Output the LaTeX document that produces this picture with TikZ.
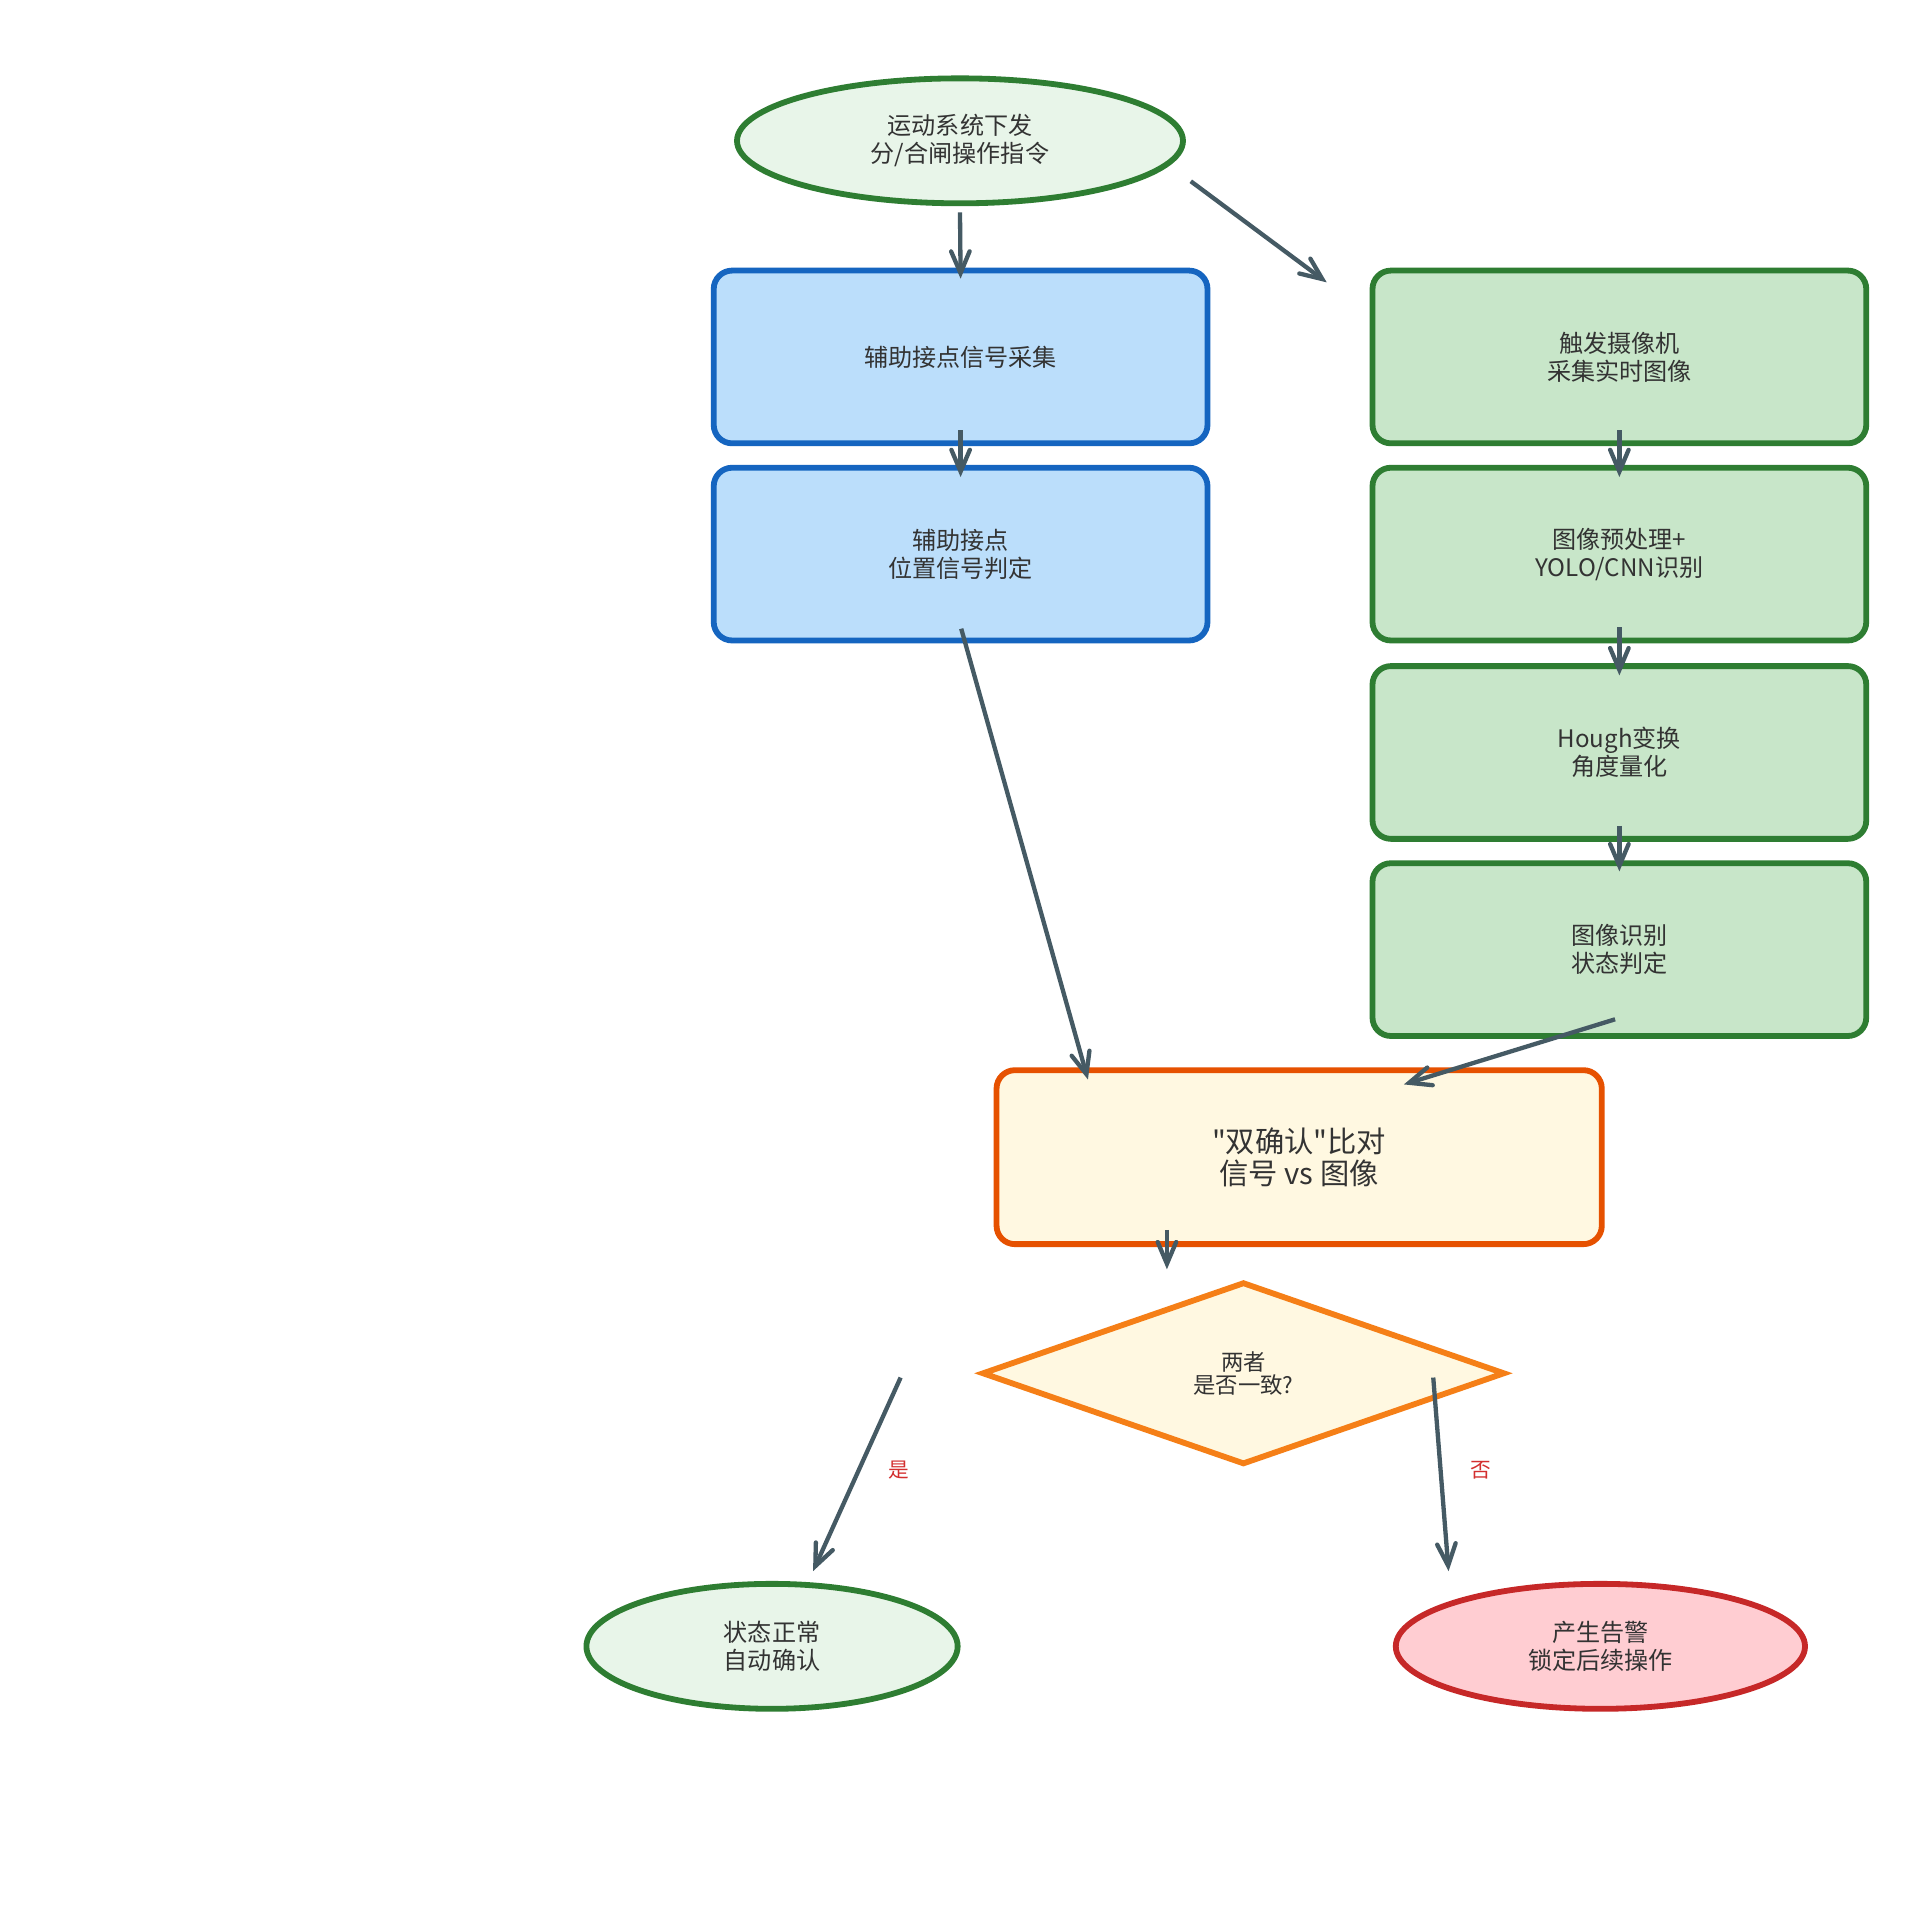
\documentclass[tikz,border=0pt]{standalone}
\usepackage{fontspec}
\setmainfont{Noto Sans CJK SC}[Ligatures=TeXOff]
\usepackage{tikz}
\usetikzlibrary{positioning,arrows,shapes.geometric}
\definecolor{txtgray}{HTML}{333333}
\definecolor{arrgray}{HTML}{455A64}
\definecolor{okfill}{HTML}{E8F5E9}
\definecolor{okdraw}{HTML}{2E7D32}
\definecolor{auxfill}{HTML}{BBDEFB}
\definecolor{auxdraw}{HTML}{1565C0}
\definecolor{camfill}{HTML}{C8E6C9}
\definecolor{cmpfill}{HTML}{FFF8E1}
\definecolor{cmpdraw}{HTML}{E65100}
\definecolor{decdraw}{HTML}{F57F17}
\definecolor{alarmfill}{HTML}{FFCDD2}
\definecolor{alarmdraw}{HTML}{C62828}
\definecolor{lblred}{HTML}{D32F2F}
\tikzset{
basenode/.style = {align=center, inner sep=0pt, text=txtgray, line width=1.35pt,
  font=\fontsize{5.6}{6.5}\selectfont},
endnode/.style = {basenode, ellipse, minimum height=1.02cm},
startnode/.style = {endnode, fill=okfill, draw=okdraw, minimum width=3.64cm},
okend/.style = {endnode, fill=okfill, draw=okdraw, minimum width=3.03cm},
alarmend/.style = {endnode, fill=alarmfill, draw=alarmdraw, minimum width=3.34cm},
stepbox/.style = {basenode, rectangle, rounded corners=0.15cm, minimum width=4.03cm, minimum height=1.41cm},
auxbox/.style = {stepbox, fill=auxfill, draw=auxdraw},
cambox/.style = {stepbox, fill=camfill, draw=okdraw},
cmpbox/.style = {stepbox, fill=cmpfill, draw=cmpdraw, minimum width=4.94cm, minimum height=1.42cm,
  font=\fontsize{6.8}{7.3}\selectfont},
decision/.style = {basenode, diamond, aspect=2.8, fill=cmpfill, draw=decdraw,
  minimum width=4.27cm, minimum height=1.49cm, font=\fontsize{5.2}{5.3}\selectfont},
arr/.style = {->, >=angle 45, line width=1pt, draw=arrgray},
yesno/.style = {text=lblred, inner sep=0pt, font=\fontsize{4.8}{5}\selectfont}
}
\begin{document}
\begin{tikzpicture}[x=0.01cm, y=-0.01cm]
\fill[white] (0,0) rectangle (1568,1568);
\useasboundingbox (0,0) rectangle (1568,1568);

% nodes
\node[startnode] (cmd) at (784,115) {运动系统下发\\分/合闸操作指令};
\node[auxbox] (collect) at (784.5,291.5) {辅助接点信号采集};
\node[auxbox] (auxjudge) at (784.5,452.5) {辅助接点\\位置信号判定};
\node[cambox] (trigger) at (1322.5,291.5) {触发摄像机\\采集实时图像};
\node[cambox] (preproc) at (1322.5,452.5) {图像预处理+\\YOLO/CNN识别};
\node[cambox] (hough) at (1322.5,614.5) {Hough变换\\角度量化};
\node[cambox] (imgjudge) at (1322.5,775.5) {图像识别\\状态判定};
\node[cmpbox] (compare) at (1061,945) {"双确认"比对\\信号 vs 图像};
\node[decision] (same) at (1015.5,1121.5) {两者\\是否一致?};
\node[okend] (normal) at (630.5,1344.5) {状态正常\\自动确认};
\node[alarmend] (alarm) at (1307,1344.5) {产生告警\\锁定后续操作};

% connectors
\draw[arr] ([shift={(0,5)}]cmd.south) -- ([shift={(0,9)}]collect.north);
\draw[arr] ([shift={(4,33)}]cmd.east) -- ([shift={(-35,12)}]trigger.north west);
\draw[arr] ([shift={(0,-13)}]collect.south) -- ([shift={(0,10)}]auxjudge.north);
\draw[arr] ([shift={(0,-13)}]trigger.south) -- ([shift={(0,10)}]preproc.north);
\draw[arr] ([shift={(0,-13)}]preproc.south) -- ([shift={(0,10)}]hough.north);
\draw[arr] ([shift={(0,-13)}]hough.south) -- ([shift={(0,9)}]imgjudge.north);
\draw[arr] ([shift={(0.5,-12)}]auxjudge.south) -- ([shift={(77,10)}]compare.north west);
\draw[arr] ([shift={(-3.5,-16)}]imgjudge.south) -- ([shift={(-164,14)}]compare.north east);
\draw[arr] ([shift={(-108,-14)}]compare.south) -- ([shift={(-62.5,-8)}]same.north);
\draw[arr] ([shift={(-64,3.5)}]same.west) -- ([shift={(33.5,-8)}]normal.north)
  node[yesno, pos=0.48, right=0.23cm] {是};
\draw[arr] ([shift={(-61,3.5)}]same.east) -- ([shift={(-124,-8)}]alarm.north)
  node[yesno, pos=0.48, right=0.23cm] {否};
\end{tikzpicture}
\end{document}
